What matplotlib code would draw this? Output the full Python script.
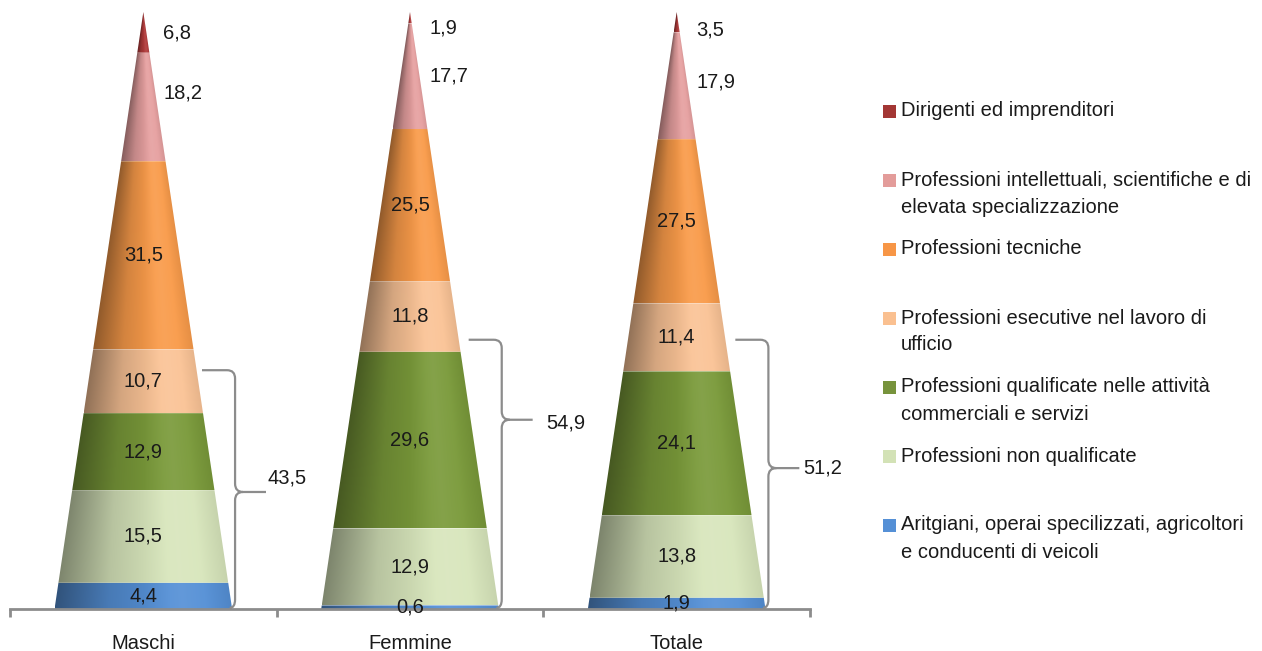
import numpy as np
import matplotlib
matplotlib.use("Agg")
import matplotlib.pyplot as plt
from matplotlib.patches import Polygon, Rectangle, PathPatch
from matplotlib.path import Path
from matplotlib.colors import to_rgb

plt.rcParams['font.family'] = ['Liberation Sans', 'DejaVu Sans']
FS = 14.5

# ---------------- data ----------------
categories = ["Maschi", "Femmine", "Totale"]
series_names = [
    "Aritgiani, operai specilizzati, agricoltori\ne conducenti di veicoli",
    "Professioni non qualificate",
    "Professioni qualificate nelle attività\ncommerciali e servizi",
    "Professioni esecutive nel lavoro di\nufficio",
    "Professioni tecniche",
    "Professioni intellettuali, scientifiche e di\nelevata specializzazione",
    "Dirigenti ed imprenditori",
]
aritgiani = [4.4, 0.6, 1.9]
non_qualificate = [15.5, 12.9, 13.8]
qualificate = [12.9, 29.6, 24.1]
esecutive = [10.7, 11.8, 11.4]
tecniche = [31.5, 25.5, 27.5]
intellettuali = [18.2, 17.7, 17.9]
dirigenti = [6.8, 1.9, 3.5]
brace_totals = [43.5, 54.9, 51.2]

series_values = [aritgiani, non_qualificate, qualificate, esecutive,
                 tecniche, intellettuali, dirigenti]
series_colors = ["#5590D6", "#D8E6BC", "#7A9A3A", "#FAC396",
                 "#F99B4A", "#E6A0A0", "#B03A3A"]
legend_colors = ["#5590D6", "#D3E2B6", "#77933C", "#FAC090",
                 "#F79646", "#E39C9A", "#A33634"]

# layout of labels placed outside the cones (intellettuali, dirigenti)
outside_label_y = [[86.4, 96.5], [89.3, 97.4], [88.3, 97.0]]
# brace layout (data coords)
brace_top = [40.0, 45.1, 45.1]
brace_mid = [19.6, 31.7, 23.6]
brace_text_dx = [0.466, 0.511, 0.474]
brace_text_y = [21.9, 31.2, 23.6]

W, H = 1262, 651
fig = plt.figure(figsize=(W / 100, H / 100), dpi=100)
ax = fig.add_axes([10 / W, 42 / H, 800 / W, 597 / H])

HW = 0.333      # half width of cone base in category units
APEX = 100.0

def shade_img(base, c, y0, y1, nx=240, ny=120):
    x0 = c - HW * (1 - y0 / APEX)
    x1 = c + HW * (1 - y0 / APEX)
    xs = np.linspace(x0, x1, nx)
    ys = np.linspace(y0, y1, ny)
    X, Y = np.meshgrid(xs, ys)
    w = np.maximum(HW * (1 - Y / APEX), 1e-6)
    t = np.clip((X - c) / w * 0.5 + 0.5, 0, 1)
    f = np.interp(t, [0.0, 0.3, 0.65, 0.85, 1.0], [0.58, 0.85, 1.0, 1.0, 0.92])
    base = np.array(to_rgb(base))
    rgb = base[None, None, :] * f[..., None]
    hl = np.interp(t, [0.0, 0.5, 0.72, 0.9, 1.0], [0, 0, 0.08, 0.02, 0])
    rgb = rgb + (1 - rgb) * hl[..., None]
    return np.clip(rgb, 0, 1), (x0, x1, y0, y1)

for i, cat in enumerate(categories):
    c = i
    bottom = 0.0
    for s, vals in enumerate(series_values):
        v = vals[i]
        y0, y1 = bottom, min(bottom + v, APEX)
        w0 = HW * (1 - y0 / APEX)
        w1 = HW * (1 - y1 / APEX)
        poly = Polygon([(c - w0, y0), (c + w0, y0), (c + w1, y1), (c - w1, y1)],
                       closed=True, facecolor='none', edgecolor='none')
        ax.add_patch(poly)
        img, ext = shade_img(series_colors[s], c, y0, y1)
        im = ax.imshow(img, extent=ext, origin='lower', aspect='auto',
                       interpolation='bilinear', zorder=2)
        im.set_clip_path(poly)
        mid = (y0 + y1) / 2
        lab = f"{v:.1f}".replace('.', ',')
        if s >= 5:
            ax.text(c + 0.075, outside_label_y[i][s - 5], lab, ha='left',
                    va='center', fontsize=FS, color='#1a1a1a', zorder=5)
        else:
            ax.text(c, mid, lab, ha='center', va='center',
                    fontsize=FS, color='#1a1a1a', zorder=5)
        bottom += v

    # brace
    xl = c + 0.22
    xv = c + 0.344
    xt = c + 0.46
    rx, ry = 0.03, 1.4
    yt, ym, yb = brace_top[i], brace_mid[i], 0.2
    verts = [(xl, yt), (xv - rx, yt), (xv, yt), (xv, yt - ry),
             (xv, ym + ry), (xv, ym), (xv + rx, ym), (xt, ym),
             (xv + rx, ym), (xv, ym), (xv, ym - ry),
             (xv, yb + ry), (xv, yb), (xv - 0.02, yb)]
    codes = [Path.MOVETO, Path.LINETO, Path.CURVE3, Path.CURVE3,
             Path.LINETO, Path.CURVE3, Path.CURVE3, Path.LINETO,
             Path.MOVETO, Path.CURVE3, Path.CURVE3,
             Path.LINETO, Path.CURVE3, Path.CURVE3]
    ax.add_patch(PathPatch(Path(verts, codes), facecolor='none',
                           edgecolor='#8c8c8c', lw=1.6, zorder=4,
                           clip_on=False))
    ax.text(c + brace_text_dx[i], brace_text_y[i],
            f"{brace_totals[i]:.1f}".replace('.', ','),
            ha='left', va='center', fontsize=FS, color='#1a1a1a')

ax.set_xlim(-0.5, 2.5)
ax.set_ylim(0, 100)
for sp in ['top', 'left', 'right']:
    ax.spines[sp].set_visible(False)
ax.spines['bottom'].set_color('#8c8c8c')
ax.spines['bottom'].set_linewidth(2)
ax.set_yticks([])
ax.set_xticks([-0.5, 0.5, 1.5, 2.5])
ax.set_xticklabels([])
ax.tick_params(axis='x', which='major', direction='out', length=6,
               width=2, color='#8c8c8c')
ax.set_xticks([0, 1, 2], minor=True)
ax.set_xticklabels(categories, minor=True, fontsize=FS, color='#1a1a1a')
ax.tick_params(axis='x', which='minor', length=0, pad=18)
ax.patch.set_alpha(0)

# legend (manual)
leg_order = list(range(len(series_names)))[::-1]
y_first = 111
step = 69
for k, s in enumerate(leg_order):
    yc = y_first + k * step
    fig.patches.append(Rectangle((883 / W, 1 - (yc + 7) / H), 13 / W, 13 / H,
                                 transform=fig.transFigure,
                                 facecolor=legend_colors[s], edgecolor='none'))
    for j, line in enumerate(series_names[s].split('\n')):
        fig.text(901 / W, 1 - (yc + j * 27) / H, line, ha='left', va='center',
                 fontsize=FS, color='#1a1a1a')

fig.savefig("out.png", dpi=100)
